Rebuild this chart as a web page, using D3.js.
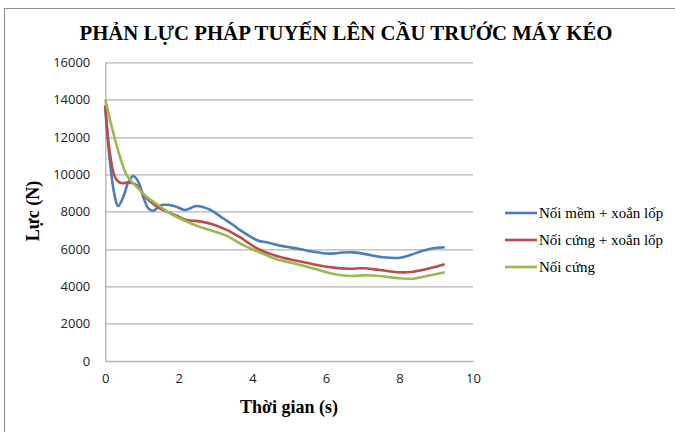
<!DOCTYPE html>
<html>
<head>
<meta charset="utf-8">
<script src="https://cdn.jsdelivr.net/npm/d3@7"></script>
<style>
  body { margin: 0; background: #fff; }
  svg { display: block; }
</style>
</head>
<body>
<div id="chart"></div>
<script>
// values
var seriesNames = ["Nối mềm + xoắn lốp", "Nối cứng + xoắn lốp", "Nối cứng"];
var colors = ["#4a7ebb", "#be4b48", "#98b954"];

var blueT = [0, 0.13, 0.26, 0.35, 0.49, 0.63, 0.76, 0.9, 1.03, 1.17, 1.3, 1.53, 1.76, 1.95, 2.17, 2.48, 2.85, 3.2, 3.47, 3.66, 4.16, 4.39, 4.75, 4.93, 5.29, 5.65, 6.1, 6.39, 6.74, 7.2, 7.56, 8.02, 8.3, 8.64, 8.91, 9.23];
var blueN = [13600, 10590, 8800, 8300, 8800, 9600, 9910, 9600, 8800, 8180, 8050, 8350, 8350, 8250, 8090, 8300, 8100, 7645, 7300, 7020, 6445, 6360, 6180, 6120, 6000, 5855, 5750, 5800, 5820, 5680, 5555, 5535, 5680, 5910, 6040, 6090];

var redT = [0, 0.1, 0.26, 0.4, 0.67, 0.85, 1.12, 1.4, 1.67, 1.94, 2.21, 2.57, 2.89, 3.3, 3.66, 4.16, 4.66, 5.2, 5.65, 6.2, 6.65, 7.01, 7.46, 8.02, 8.37, 8.83, 9.23];
var redN = [13700, 11500, 9870, 9550, 9550, 9430, 8720, 8270, 8000, 7780, 7550, 7480, 7340, 7020, 6630, 6000, 5625, 5370, 5180, 5000, 4945, 4965, 4875, 4750, 4785, 4965, 5180];

var greenT = [0, 0.22, 0.4, 0.58, 0.85, 1.12, 1.4, 1.76, 2.12, 2.57, 2.93, 3.3, 3.75, 4.16, 4.66, 5.2, 5.74, 6.2, 6.65, 7.1, 7.46, 8.02, 8.37, 8.74, 9.23];
var greenN = [14000, 12200, 10940, 9960, 9340, 8800, 8410, 7910, 7550, 7180, 6960, 6700, 6210, 5855, 5450, 5200, 4910, 4660, 4555, 4590, 4555, 4430, 4410, 4555, 4750];

var xTicks = [0, 2, 4, 6, 8, 10];
var yTicks = [0, 2000, 4000, 6000, 8000, 10000, 12000, 14000, 16000];

var W = 675, H = 432;
var margin = {top: 62.3, left: 105.3, right: 202, bottom: 71};
var width = W - margin.left - margin.right;
var height = H - margin.top - margin.bottom;

var svg = d3.select("#chart").append("svg")
  .attr("width", W)
  .attr("height", H);

// outer frame
svg.append("rect")
  .attr("x", 4.5).attr("y", 8.5)
  .attr("width", W + 20).attr("height", H + 20)
  .attr("fill", "#fff")
  .attr("stroke", "#8c8c8c");

svg.append("text")
  .attr("x", 346).attr("y", 40)
  .attr("text-anchor", "middle")
  .attr("font-family", "'Liberation Serif', serif")
  .attr("font-weight", "bold")
  .attr("font-size", 20.8)
  .attr("fill", "#000")
  .text("PHẢN LỰC PHÁP TUYẾN LÊN CẦU TRƯỚC MÁY KÉO");

var g = svg.append("g")
  .attr("transform", "translate(" + margin.left + "," + margin.top + ")");

var x = d3.scaleLinear().domain([0, 10]).range([0, width]);
var y = d3.scaleLinear().domain([0, 16000]).range([height, 0]);

// grid
g.append("g")
  .selectAll("line")
  .data(yTicks.slice(1))
  .enter().append("line")
  .attr("x1", 0).attr("x2", width)
  .attr("y1", function(d) { return Math.round(y(d)) + 0.5; })
  .attr("y2", function(d) { return Math.round(y(d)) + 0.5; })
  .attr("stroke", "#b3b3b3")
  .attr("stroke-width", 1.3);

// axes
var yAxis = g.append("g")
  .call(d3.axisLeft(y).tickValues(yTicks).tickSize(0).tickPadding(15).tickFormat(d3.format("d")));
var xAxis = g.append("g")
  .attr("transform", "translate(0," + height + ")")
  .call(d3.axisBottom(x).tickValues(xTicks).tickSize(0).tickPadding(13));

[xAxis, yAxis].forEach(function(a) {
  a.select(".domain").attr("stroke", "#b3b3b3").attr("stroke-width", 1.3);
  a.selectAll("text")
    .attr("font-family", "'Open Sans', sans-serif")
    .attr("font-size", 13)
    .attr("fill", "#222");
});

var series = [
  {t: blueT, v: blueN},
  {t: redT, v: redN},
  {t: greenT, v: greenN}
];

var line = d3.line()
  .x(function(d) { return x(d[0]); })
  .y(function(d) { return y(d[1]); })
  .curve(d3.curveCatmullRom.alpha(0.5));

g.append("g")
  .selectAll("path")
  .data(series)
  .enter().append("path")
  .attr("fill", "none")
  .attr("stroke", function(d, i) { return colors[i]; })
  .attr("stroke-width", 2.6)
  .attr("stroke-linejoin", "round")
  .attr("d", function(d) { return line(d.t.map(function(t, i) { return [t, d.v[i]]; })); });

// axis titles
svg.append("text")
  .attr("x", 289).attr("y", 413)
  .attr("text-anchor", "middle")
  .attr("font-family", "'Liberation Serif', serif")
  .attr("font-weight", "bold")
  .attr("font-size", 18)
  .text("Thời gian (s)");

svg.append("text")
  .attr("transform", "translate(39,211) rotate(-90)")
  .attr("text-anchor", "middle")
  .attr("font-family", "'Liberation Serif', serif")
  .attr("font-weight", "bold")
  .attr("font-size", 18)
  .text("Lực (N)");

// legend
var legend = svg.selectAll(".legend")
  .data(seriesNames)
  .enter().append("g")
  .attr("class", "legend")
  .attr("transform", function(d, i) { return "translate(505," + (213 + i * 27) + ")"; });

legend.append("line")
  .attr("x1", 0).attr("x2", 32)
  .attr("stroke", function(d, i) { return colors[i]; })
  .attr("stroke-width", 2.6);

legend.append("text")
  .attr("x", 34).attr("y", 0)
  .attr("dy", "0.32em")
  .attr("font-family", "'Liberation Serif', serif")
  .attr("font-size", 15)
  .text(function(d) { return d; });
</script>
</body>
</html>
